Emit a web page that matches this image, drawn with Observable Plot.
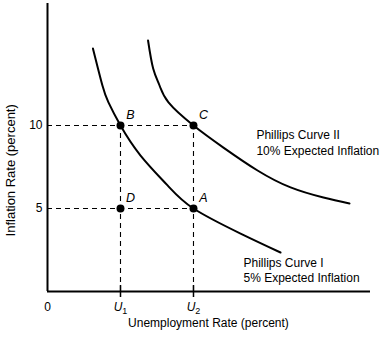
<!DOCTYPE html>
<html><head><meta charset="utf-8">
<script src="https://cdn.jsdelivr.net/npm/d3@7"></script>
<script src="https://cdn.jsdelivr.net/npm/@observablehq/plot@0.6"></script>
<style>body{margin:0;background:#fff;} svg{display:block;}</style>
</head><body><div id="chart"></div>
<script>
// Phillips Curve I (5% expected inflation)
const curve1U = [2.49, 3.01, 3.34, 4.0, 5.10, 6.58, 8.0, 10.58, 12.77];
const curve1Infl = [14.64, 12.41, 11.39, 10, 8.19, 6.39, 5.0, 3.49, 2.35];
// Phillips Curve II (10% expected inflation)
const curve2U = [5.51, 5.79, 6.14, 6.63, 8.0, 9.64, 11.51, 13.32, 15.12, 16.55];
const curve2Infl = [15.12, 13.43, 12.41, 11.39, 10, 8.67, 7.29, 6.27, 5.66, 5.30];
// Labelled points
const pointLabels = ["B", "C", "D", "A"];
const pointU = [4, 8, 4, 8];
const pointInfl = [10, 10, 5, 5];
// Ticks
const xTickValues = [0, 4, 8];
const xTickLabels = ["0", "U1", "U2"];
const yTickValues = [5, 10];
// Texts
const curveNames = ["Phillips Curve I", "Phillips Curve II"];
const curveSubtitles = ["5% Expected Inflation", "10% Expected Inflation"];
const axisTitleX = "Unemployment Rate (percent)";
const axisTitleY = "Inflation Rate (percent)";

const c1 = curve1U.map((u, i) => ({u, infl: curve1Infl[i]}));
const c2 = curve2U.map((u, i) => ({u, infl: curve2Infl[i]}));
const pts = pointLabels.map((label, i) => ({label, u: pointU[i], infl: pointInfl[i]}));
// dashed guides: horizontal to the farthest point at each level, vertical down from highest point at each U
const hGuides = yTickValues.map(v => ({infl: v, u: d3.max(pts.filter(p => p.infl === v), p => p.u)}));
const vGuides = [...new Set(pointU)].map(u => ({u, infl: d3.max(pts.filter(p => p.u === u), p => p.infl)}));
const xTicks = xTickValues.map((v, i) => ({v, label: xTickLabels[i]}));
const curveText = [
  {u: 10.74, infl: 1.69, text: curveNames[0]},
  {u: 10.74, infl: 0.78, text: curveSubtitles[0]},
  {u: 11.45, infl: 9.40, text: curveNames[1]},
  {u: 11.45, infl: 8.43, text: curveSubtitles[1]}
];

const font = "'Liberation Sans', Arial, Helvetica, sans-serif";
const plot = Plot.plot({
  width: 383,
  height: 338,
  marginLeft: 47,
  marginRight: 13,
  marginTop: 3,
  marginBottom: 47,
  style: {fontFamily: font, fontSize: "12px", background: "#fff", color: "#000"},
  x: {domain: [0, 17.7], axis: null},
  y: {domain: [0, 17.35], axis: null},
  marks: [
    Plot.ruleY(hGuides, {y: "infl", x1: 0, x2: "u", stroke: "#000", strokeWidth: 1.1, strokeDasharray: "5,4"}),
    Plot.ruleX(vGuides, {x: "u", y1: 0, y2: "infl", stroke: "#000", strokeWidth: 1.1, strokeDasharray: "5,4"}),
    Plot.line(c1, {x: "u", y: "infl", curve: "natural", stroke: "#000", strokeWidth: 2}),
    Plot.line(c2, {x: "u", y: "infl", curve: "natural", stroke: "#000", strokeWidth: 2}),
    Plot.ruleX([0], {y1: 0, y2: 17.35, stroke: "#000", strokeWidth: 2}),
    Plot.ruleY([0], {x1: 0, x2: 17.7, stroke: "#000", strokeWidth: 2}),
    Plot.ruleX(xTickValues.filter(v => v !== 0), {x: d => d, y1: 0, y2: 0, insetTop: -6, insetBottom: -6, stroke: "#000", strokeWidth: 1.5}),
    Plot.dot(pts, {x: "u", y: "infl", r: 4, fill: "#000"}),
    Plot.text(pts, {x: "u", y: "infl", text: "label", dx: 10, dy: -11, fontStyle: "italic", fontSize: 12.5, fill: "#000"}),
    Plot.text(xTicks, {x: "v", y: 0, text: "label", dy: 16, fontSize: 12, fill: "#000"}),
    Plot.text(yTickValues, {x: 0, y: d => d, text: d => String(d), dx: -5, textAnchor: "end", fontSize: 12, fill: "#000"}),
    Plot.text(curveText, {x: "u", y: "infl", text: "text", textAnchor: "start", fontSize: 12, fill: "#000"}),
    Plot.text([axisTitleX], {x: 8.82, y: 0, text: d => d, dy: 32, fontSize: 12, fill: "#000"}),
    Plot.text([axisTitleY], {x: 0, y: 7.3, text: d => d, dx: -37, rotate: -90, fontSize: 13, fill: "#000"})
  ]
});
// Italic U with subscript for U1, U2 tick labels
d3.select(plot).selectAll("text").each(function() {
  const m = /^U(\d)$/.exec(this.textContent);
  if (m) {
    const s = d3.select(this);
    s.text(null);
    s.append("tspan").attr("font-style", "italic").text("U");
    s.append("tspan").attr("font-size", "9").attr("dy", "3").text(m[1]);
  }
});
document.getElementById("chart").append(plot);
</script>
</body></html>
